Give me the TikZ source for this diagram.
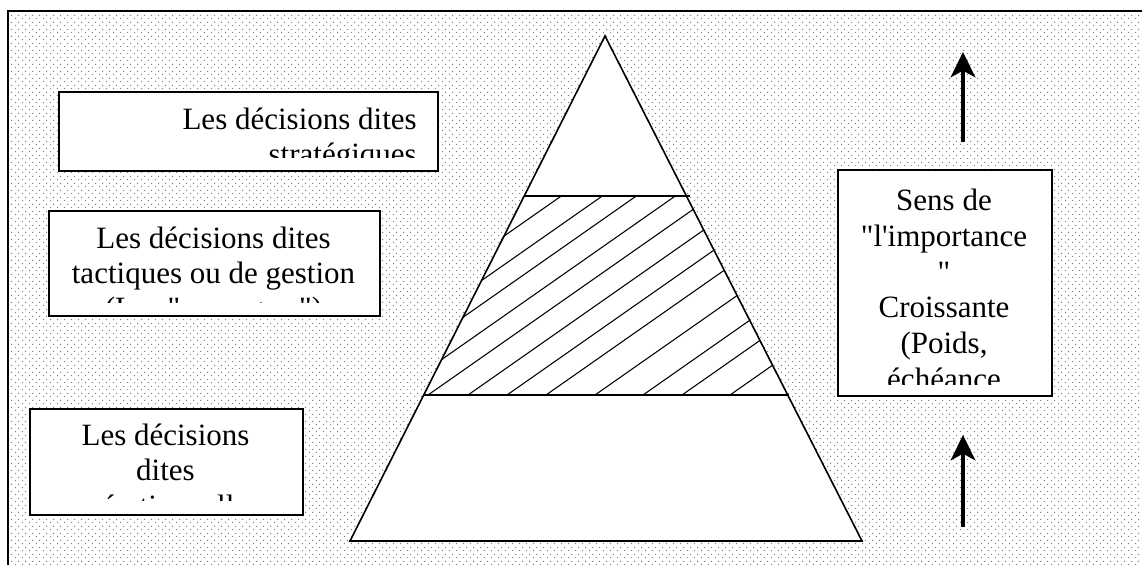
\documentclass[tikz,border=0pt]{standalone}
\usepackage{fontspec}
\newfontfamily\tnr{Liberation Serif}
\usetikzlibrary{arrows.meta,patterns.meta}
\tikzdeclarepattern{
  name=stagdots,
  type=colored,
  bounding box={(0pt,0pt) and (5.25pt,5.25pt)},
  tile size={(5.25pt,5.25pt)},
  code={
    \fill[black!50] (1.3pt,1.3pt) circle[radius=0.62pt];
    \fill[black!50] (3.925pt,3.925pt) circle[radius=0.62pt];
  }
}
\begin{document}
\begin{tikzpicture}[x=0.75pt,y=-0.75pt,
  boxnode/.style={draw=black,line width=1.2pt,fill=white,anchor=north west,inner sep=0pt},
  ln/.style={inner sep=0pt,font=\tnr\fontsize{23.25pt}{27pt}\selectfont},
  shape line/.style={line width=1.2pt,line join=miter},
  hatch/.style={line width=0.8pt},
  uparrow/.style={line width=2.3pt,-{Stealth[length=19pt,width=18.5pt,inset=5pt]}}]
\useasboundingbox (0,0) rectangle (1142,565);
% background
\fill[white] (0,0) rectangle (1142,565);
\fill[pattern=stagdots] (8,11) rectangle (1142,565);
\draw[line width=0.9pt] (8,565) -- (8,11) -- (1142,11);

% pyramid
\coordinate (apex) at (605,36);
\coordinate (bl) at (350,541);
\coordinate (br) at (862,541);
\filldraw[shape line,fill=white] (apex) -- (br) -- (bl) -- cycle;
\begin{scope}
  \clip (524.2,196) -- (686.4,196) -- (787.7,395) -- (423.7,395) -- cycle;
  \foreach \b in {277,318,352,391,428,468,507,546,595,643,682,730}
    \draw[hatch] (\b,395) -- ++(440,-308);
\end{scope}
\coordinate (u1) at (524,196);
\coordinate (u2) at (690,196);
\coordinate (m1) at (424,395);
\coordinate (m2) at (789,395);
\draw[shape line] (u1) -- (u2);
\draw[shape line] (m1) -- (m2);

% box 1 : strategic
\node[boxnode,minimum width=284.25pt,minimum height=59.25pt] (b1) at (58,91) {};
\begin{scope}
  \clip (58,91) rectangle (437,157);
  \node[ln,anchor=base east] (b1l1) at (417,129) {Les décisions dites};
  \node[ln,anchor=base east] (b1l2) at (417,164) {stratégiques};
\end{scope}

% box 2 : tactical
\node[boxnode,minimum width=248.25pt,minimum height=78.75pt] (b2) at (48,210) {};
\begin{scope}
  \clip (48,210) rectangle (379,302.5);
  \node[ln,anchor=base] (b2l1) at (213.5,248) {Les décisions dites};
  \node[ln,anchor=base] (b2l2) at (213.5,283) {tactiques ou de gestion};
  \node[ln,anchor=base] (b2l3) at (213.5,318) {(Les "managers")};
\end{scope}

% box 3 : operational
\node[boxnode,minimum width=204.75pt,minimum height=79.5pt] (b3) at (29,408) {};
\begin{scope}
  \clip (29,408) rectangle (302,500.5);
  \node[ln,anchor=base] (b3l1) at (165.5,445) {Les décisions};
  \node[ln,anchor=base] (b3l2) at (165.5,480) {dites};
  \node[ln,anchor=base] (b3l3) at (165.5,516) {opérationnelles};
\end{scope}

% box 4 : importance
\node[boxnode,minimum width=160.5pt,minimum height=169.5pt] (b4) at (837,169) {};
\begin{scope}
  \clip (837,169) rectangle (1051,384);
  \node[ln,anchor=base] (b4l1) at (944,210) {Sens de};
  \node[ln,anchor=base] (b4l2) at (944,246) {"l'importance};
  \node[ln,anchor=base] (b4l3) at (944,282) {"};
  \node[ln,anchor=base] (b4l4) at (944,317) {Croissante};
  \node[ln,anchor=base] (b4l5) at (944,353) {(Poids,};
  \node[ln,anchor=base] (b4l6) at (944,389) {échéance};
\end{scope}

% arrows
\coordinate (a1s) at (963,142);
\coordinate (a1e) at (963,52);
\coordinate (a2s) at (963,527);
\coordinate (a2e) at (963,435);
\draw[uparrow] (a1s) -- (a1e);
\draw[uparrow] (a2s) -- (a2e);
\end{tikzpicture}
\end{document}
